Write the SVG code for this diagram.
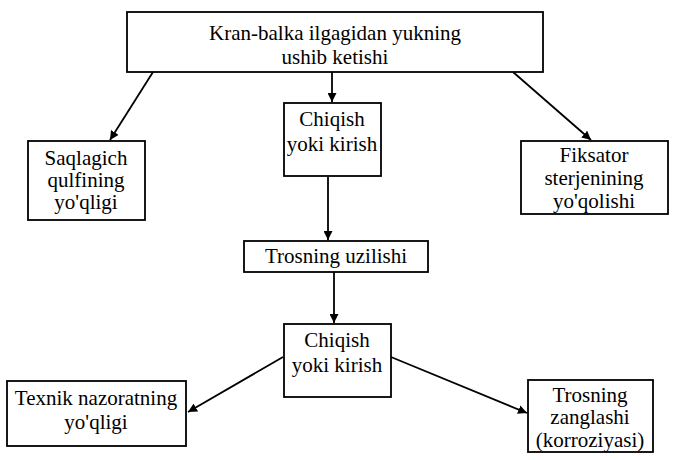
<svg xmlns="http://www.w3.org/2000/svg" width="674" height="460" viewBox="0 0 674 460">
<defs>
<style>
.box{fill:#fff;stroke:#000;stroke-width:1.8}
.t{font-family:'Liberation Serif','Times New Roman',serif;font-size:21px;fill:#000;text-anchor:middle}
.c{stroke:#000;stroke-width:1.8;fill:none;marker-end:url(#ah)}
</style>
<marker id="ah" viewBox="0 0 10 10" refX="10" refY="5" markerWidth="9" markerHeight="9" markerUnits="userSpaceOnUse" orient="auto">
<path d="M0,0 L10,5 L0,10 Z" fill="#000"/>
</marker>
</defs>
<rect width="674" height="460" fill="#fff"/>
<g id="connectors">
<line class="c" x1="153" y1="72" x2="110" y2="140"/>
<line class="c" x1="332" y1="72" x2="332" y2="102"/>
<line class="c" x1="513" y1="72" x2="591" y2="140"/>
<line class="c" x1="328" y1="177" x2="328" y2="240"/>
<line class="c" x1="334" y1="272" x2="334" y2="323"/>
<line class="c" x1="283" y1="357" x2="188" y2="412"/>
<line class="c" x1="391" y1="357" x2="527" y2="413"/>
</g>
<g id="n1">
<rect class="box" x="127" y="12" width="416" height="60"/>
<text class="t" x="335" y="40">Kran-balka ilgagidan yukning</text>
<text class="t" x="335" y="64">ushib ketishi</text>
</g>
<g id="n2">
<rect class="box" x="28" y="141" width="117" height="79"/>
<text class="t" x="86" y="165">Saqlagich</text>
<text class="t" x="86" y="187">qulfining</text>
<text class="t" x="86" y="209">yo'qligi</text>
</g>
<g id="n3">
<rect class="box" x="284" y="103" width="97" height="73"/>
<text class="t" x="332" y="126">Chiqish</text>
<text class="t" x="332" y="151">yoki kirish</text>
</g>
<g id="n4">
<rect class="box" x="521" y="141" width="147" height="73"/>
<text class="t" x="594" y="162">Fiksator</text>
<text class="t" x="594" y="185">sterjenining</text>
<text class="t" x="594" y="208">yo'qolishi</text>
</g>
<g id="n5">
<rect class="box" x="244" y="241" width="184" height="31"/>
<text class="t" x="336" y="263">Trosning uzilishi</text>
</g>
<g id="n6">
<rect class="box" x="284" y="324" width="107" height="73"/>
<text class="t" x="337" y="347">Chiqish</text>
<text class="t" x="337" y="372">yoki kirish</text>
</g>
<g id="n7">
<rect class="box" x="7" y="381" width="179" height="65"/>
<text class="t" x="96" y="405">Texnik nazoratning</text>
<text class="t" x="96" y="429">yo'qligi</text>
</g>
<g id="n8">
<rect class="box" x="528" y="380" width="125" height="72"/>
<text class="t" x="590" y="402">Trosning</text>
<text class="t" x="590" y="424">zanglashi</text>
<text class="t" x="590" y="447">(korroziyasi)</text>
</g>
</svg>
